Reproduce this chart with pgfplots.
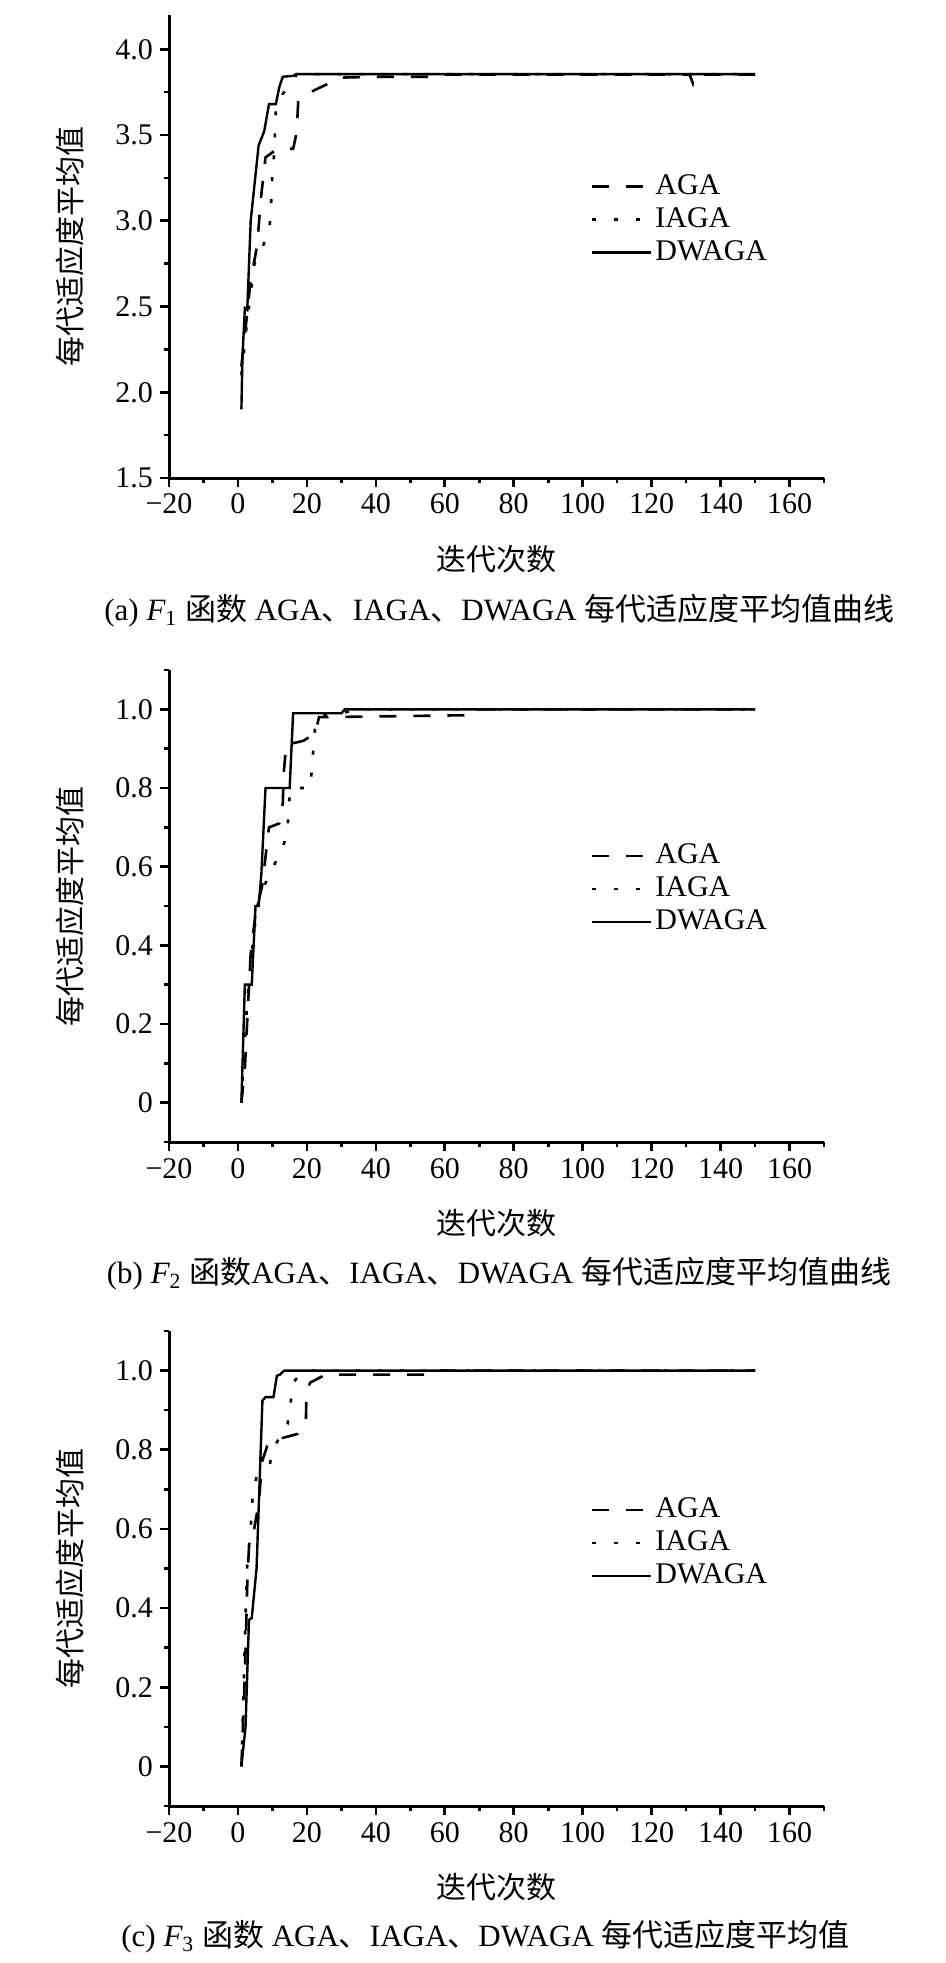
\documentclass[border=0pt]{standalone}
\usepackage{fontspec}
\setmainfont{Liberation Serif}
\newfontfamily\cjk{Noto Sans CJK SC}
\usepackage{pgfplots}
\pgfplotsset{compat=1.18}
\newcommand\fs{\fontsize{15bp}{18bp}\selectfont}
\newcommand\cfs{\fontsize{15.5bp}{18bp}\selectfont}

\pgfplotsset{
  myaxis/.style={
    scale only axis, width=327.5bp,
    axis lines=left, axis line style={-, line width=1.5bp, black},
    xmin=-20, xmax=170,
    xtick={-20,0,20,40,60,80,100,120,140,160},
    xticklabels={−20,0,20,40,60,80,100,120,140,160},
    minor xtick={-10,10,30,50,70,90,110,130,150,170},
    tick align=outside, major tick length=4.5bp, minor tick length=2.5bp,
    every tick/.style={black, line width=1.3bp},
    tick label style={font=\fs},
    /pgf/number format/assume math mode=true,
    xlabel={\cjk 迭代次数}, ylabel={\cjk 每代适应度平均值},
    label style={font=\fs},
    x label style={at={(axis description cs:0.5,0)}, anchor=center, yshift=-40.5bp},
    y label style={at={(axis description cs:-0.1511,0.5)}, anchor=center, rotate=0},
    legend cell align=left,
    legend style={draw=none, fill=none, inner sep=0pt, outer sep=0pt, font=\fs,
      row sep=0pt, anchor=north west,
      nodes={inner sep=0pt, text height=12bp, text depth=4.5bp},
      /tikz/every odd column/.append style={column sep=1.5bp}},
    legend image code/.code={\draw[##1] (0bp,0bp) -- (29.5bp,0bp);},
    clip=false,
  },
  aga/.style={black, line width=1.3bp, dash pattern=on 8.5bp off 8.5bp, sharp plot, mark=none},
  iaga/.style={black, line width=1.3bp, dash pattern=on 2bp off 9bp, sharp plot, mark=none},
  dwaga/.style={black, line width=1.2bp, solid, sharp plot, mark=none},
}

\begin{document}
\begin{tikzpicture}
\useasboundingbox (0,0) rectangle (473bp,-981.5bp);

% ---------------- (a) ----------------
\begin{axis}[myaxis, at={(84.5bp,-239bp)}, anchor=south west, height=231.5bp,
  ymin=1.5, ymax=4.2,
  ytick={1.5,2,2.5,3,3.5,4}, yticklabels={1.5,2.0,2.5,3.0,3.5,4.0},
  minor ytick={1.75,2.25,2.75,3.25,3.75},
  legend style={at={(rel axis cs:0.644,0.665)}}]
\addplot[aga] coordinates {(1,2.15) (1.7,2.29) (2.7,2.46) (3.7,2.66) (4.7,2.76) (5.6,2.86) (6.6,3.12) (8,3.37) (11.5,3.42) (16,3.42) (17,3.51) (17.5,3.70) (22,3.76) (30,3.835) (40,3.84) (55,3.84) (60,3.853) (131,3.853) (132,3.80) (133,3.853) (150,3.853)};
\addlegendentry{AGA}
\addplot[iaga] coordinates {(1,2.1) (2.7,2.42) (3.7,2.58) (4.8,2.75) (9,2.93) (9.5,3.04) (10,3.28) (10.5,3.39) (11,3.65) (13,3.74) (16,3.81) (17,3.855) (150,3.855)};
\addlegendentry{IAGA}
\addplot[dwaga] coordinates {(1,1.90) (1.3,2.20) (2,2.49) (2.7,2.48) (3.7,3.00) (6,3.44) (7.6,3.52) (9,3.68) (11,3.68) (12,3.78) (13,3.84) (16,3.845) (17,3.855) (150,3.855)};
\addlegendentry{DWAGA}
\end{axis}
\node[font=\cfs, anchor=center] at (249.75bp,-305.5bp) {(a) {\itshape F}\textsubscript{1} {\cjk 函数} AGA{\cjk 、}IAGA{\cjk 、}DWAGA {\cjk 每代适应度平均值曲线}};

% ---------------- (b) ----------------
\begin{axis}[myaxis, at={(84.5bp,-571bp)}, anchor=south west, height=236bp,
  ymin=-0.1, ymax=1.1,
  ytick={0,0.2,0.4,0.6,0.8,1}, yticklabels={0,0.2,0.4,0.6,0.8,1.0},
  minor ytick={-0.1,0.1,0.3,0.5,0.7,0.9,1.1},
  legend style={at={(rel axis cs:0.644,0.641)}}]
\addplot[aga] coordinates {(1,0) (2,0.085) (2.7,0.21) (3.7,0.38) (5.1,0.48) (7,0.55) (9,0.70) (12,0.71) (13,0.76) (13.3,0.84) (14,0.91) (19,0.92) (22.5,0.94) (23.5,0.98) (66,0.985) (67,1.0) (150,1.0)};
\addlegendentry{AGA}
\addplot[iaga] coordinates {(1,0) (2.7,0.26) (3.7,0.36) (5.6,0.5) (8.5,0.57) (10.3,0.60) (13.4,0.66) (14.4,0.70) (15,0.78) (15.5,0.80) (21,0.80) (22.5,0.97) (24,0.985) (30,0.99) (35,1.0) (150,1.0)};
\addlegendentry{IAGA}
\addplot[dwaga] coordinates {(1,0) (2,0.3) (4,0.3) (5.1,0.5) (6,0.5) (6.8,0.583) (8,0.8) (15,0.8) (16,0.99) (30,0.99) (31,1.0) (150,1.0)};
\addlegendentry{DWAGA}
\end{axis}
\node[font=\cfs, anchor=center] at (249.5bp,-637bp) {(b) {\itshape F}\textsubscript{2} {\cjk 函数}AGA{\cjk 、}IAGA{\cjk 、}DWAGA {\cjk 每代适应度平均值曲线}};

% ---------------- (c) ----------------
\begin{axis}[myaxis, at={(84.5bp,-903bp)}, anchor=south west, height=237.5bp,
  ymin=-0.1, ymax=1.1,
  ytick={0,0.2,0.4,0.6,0.8,1}, yticklabels={0,0.2,0.4,0.6,0.8,1.0},
  minor ytick={-0.1,0.1,0.3,0.5,0.7,0.9,1.1},
  legend style={at={(rel axis cs:0.644,0.658)}}]
\addplot[aga] coordinates {(1,0) (1.8,0.18) (2.2,0.29) (2.7,0.46) (3.2,0.555) (4.7,0.60) (6.1,0.67) (7,0.77) (8.5,0.81) (11.5,0.83) (13,0.83) (17.3,0.84) (19.7,0.87) (19.9,0.95) (21,0.97) (25.5,0.99) (55,0.99) (56,1.0) (150,1.0)};
\addlegendentry{AGA}
\addplot[iaga] coordinates {(1,0) (1.3,0.09) (2.2,0.38) (2.7,0.51) (3.7,0.60) (4.2,0.675) (5.1,0.72) (6.6,0.78) (9,0.75) (10,0.80) (14.4,0.865) (15.3,0.92) (16,0.97) (18,0.99) (20,1.0) (150,1.0)};
\addlegendentry{IAGA}
\addplot[dwaga] coordinates {(1,0) (2.2,0.1) (3.2,0.37) (4,0.375) (5.4,0.5) (7.1,0.924) (8,0.933) (10.3,0.933) (11.3,0.987) (12.2,0.99) (13.4,1.0) (150,1.0)};
\addlegendentry{DWAGA}
\end{axis}
\node[font=\cfs, anchor=center] at (242.75bp,-968.5bp) {(c) {\itshape F}\textsubscript{3} {\cjk 函数} AGA{\cjk 、}IAGA{\cjk 、}DWAGA {\cjk 每代适应度平均值}};
\end{tikzpicture}
\end{document}
